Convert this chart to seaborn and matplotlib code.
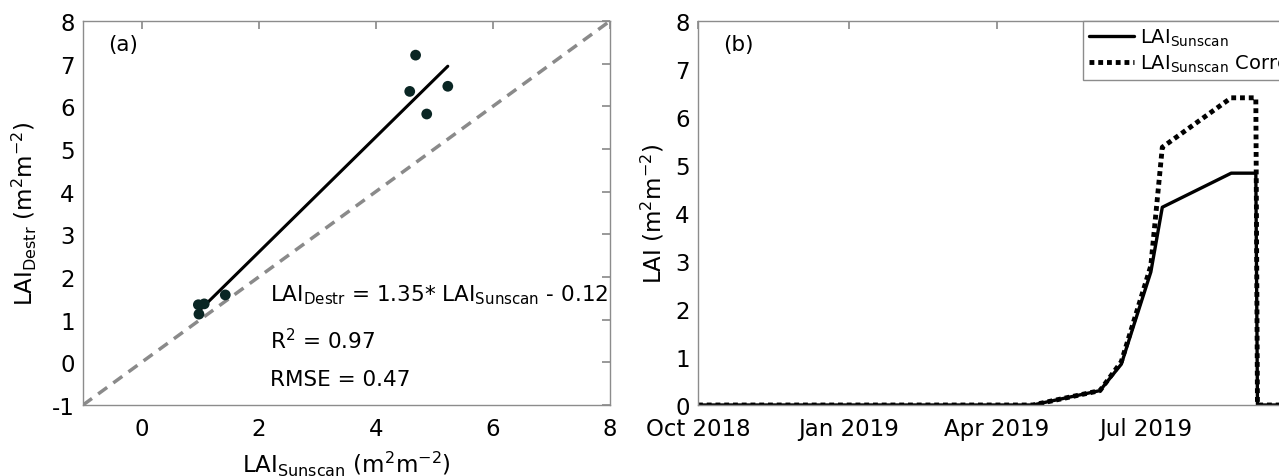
import numpy as np
import pandas as pd
import matplotlib
matplotlib.use("Agg")
import matplotlib.pyplot as plt
import matplotlib.dates as mdates
import seaborn as sns

# ---- data ----
lai_sunscan = [0.97, 0.98, 1.07, 1.43, 4.58, 4.68, 4.87, 5.23]
lai_destr = [1.35, 1.13, 1.37, 1.58, 6.35, 7.20, 5.82, 6.47]
fit_slope = 1.35
fit_intercept = -0.12

dates = ["2018-10-01", "2019-04-23", "2019-06-03", "2019-06-16", "2019-07-04",
         "2019-07-11", "2019-08-22", "2019-09-06", "2019-09-07", "2019-09-25"]
lai_raw = [0.0, 0.0, 0.30, 0.85, 2.77, 4.12, 4.83, 4.83, 0.0, 0.0]
lai_corr = [0.0, 0.0, 0.30, 0.90, 2.90, 5.37, 6.40, 6.40, 0.0, 0.0]
x_end = "2019-09-25"

sns.set_theme(style="white")
plt.rcParams["font.family"] = ["DejaVu Sans"]
plt.rcParams["mathtext.fontset"] = "dejavusans"
plt.rcParams["axes.unicode_minus"] = False
fs = 16.5
plt.rcParams.update({"font.size": 15.5, "axes.labelsize": fs, "xtick.labelsize": fs,
                     "ytick.labelsize": fs, "text.color": "black",
                     "axes.labelcolor": "black", "legend.fontsize": 14})

axis_grey = "#8c8c8c"
unit = r"(m$^{\mathregular{2}}$m$^{\mathregular{-2}}$)"

fig = plt.figure(figsize=(12.79, 4.77), dpi=100)
ax1 = fig.add_axes([83 / 1279, 71 / 477, 527 / 1279, 384 / 477])
ax2 = fig.add_axes([698 / 1279, 71 / 477, 589 / 1279, 384 / 477])

# ---- (a) scatter ----
ax1.plot([-1, 8], [-1, 8], color="#8a8a8a", lw=2.5, ls=(0, (3.2, 2.2)))
xf = np.array([min(lai_sunscan), max(lai_sunscan)])
ax1.plot(xf, fit_slope * xf + fit_intercept, color="black", lw=2.2)
sns.scatterplot(x=lai_sunscan, y=lai_destr, ax=ax1, color="#0a2624",
                s=60, edgecolor="none", zorder=3)
ax1.set_xlim(-1, 8)
ax1.set_ylim(-1, 8)
ax1.set_xticks([0, 2, 4, 6, 8])
ax1.set_yticks(range(-1, 9))
ax1.set_xlabel(r"LAI$_{\mathregular{Sunscan}}$ " + unit, labelpad=6)
ax1.set_ylabel(r"LAI$_{\mathregular{Destr}}$ " + unit, labelpad=9)
ax1.text(0.047, 0.94, "(a)", transform=ax1.transAxes, va="center")
ax1.text(2.19, 1.6,
         r"LAI$_{\mathregular{Destr}}$ = 1.35* LAI$_{\mathregular{Sunscan}}$ - 0.12",
         va="center")
ax1.text(2.19, 0.53, r"R$^{\mathregular{2}}$ = 0.97", va="center")
ax1.text(2.19, -0.38, "RMSE = 0.47", va="center")

# ---- (b) time series ----
ts = pd.DataFrame({"date": pd.to_datetime(dates), "raw": lai_raw, "corr": lai_corr})
sns.lineplot(data=ts, x="date", y="raw", ax=ax2, color="black", lw=2.4,
             label=r"LAI$_{\mathregular{Sunscan}}$")
sns.lineplot(data=ts, x="date", y="corr", ax=ax2, color="black", lw=3.5,
             ls=(0, (1, 0.8)), label=r"LAI$_{\mathregular{Sunscan}}$ Corrected")
ax2.set_xlim(pd.Timestamp(dates[0]), pd.Timestamp(x_end))
ax2.set_ylim(0, 8)
ax2.set_yticks(range(0, 9))
ax2.xaxis.set_major_locator(mdates.MonthLocator(bymonth=[1, 4, 7, 10]))
ax2.xaxis.set_major_formatter(mdates.DateFormatter("%b %Y"))
ax2.set_xlabel("")
ax2.set_ylabel("LAI " + unit, labelpad=6)
ax2.text(0.042, 0.94, "(b)", transform=ax2.transAxes, va="center")
leg = ax2.legend(loc="upper left", bbox_to_anchor=(0.654, 1.0), borderaxespad=0,
                 handlelength=2.3, fancybox=False, framealpha=1,
                 edgecolor=axis_grey, borderpad=0.3,
                 labelspacing=0.2, handletextpad=0.3)
leg.get_frame().set_linewidth(1.0)

for ax in (ax1, ax2):
    for sp in ax.spines.values():
        sp.set_color(axis_grey)
        sp.set_linewidth(1.0)
    ax.tick_params(direction="in", top=True, right=True, length=6,
                   color=axis_grey, labelcolor="black", pad=6)
    ax.tick_params(axis="x", pad=9)

fig.savefig("out.png", dpi=100)
